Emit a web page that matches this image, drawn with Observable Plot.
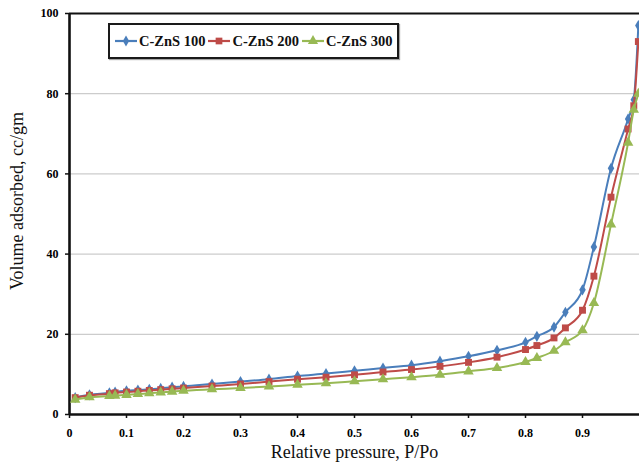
<!DOCTYPE html>
<html>
<head>
<meta charset="utf-8">
<script src="https://cdn.jsdelivr.net/npm/d3@7"></script>
<script src="https://cdn.jsdelivr.net/npm/@observablehq/plot@0.6"></script>
<style>
  body { margin: 0; background: #fff; }
  #wrap { position: relative; width: 639px; height: 470px; overflow: hidden; }
  #legend {
    position: absolute; left: 108px; top: 23px; height: 32px;
    border: 2px solid #1a1a1a; background: #fff;
    display: flex; align-items: center; padding-left: 4px; padding-right: 3px;
    font-family: "Liberation Serif", "Times New Roman", serif; font-weight: bold; font-size: 14.5px; color: #111;
    box-shadow: 1px 1px 1px rgba(0,0,0,0.35);
  }
  #legend .item { display: flex; align-items: center; margin-right: 2px; white-space: nowrap; }
  #legend svg { margin-right: 1px; }
</style>
</head>
<body>
<div id="wrap"><div id="chart"></div><div id="legend"></div></div>
<script>
const pressure = [0.01,0.035,0.07,0.08,0.1,0.12,0.14,0.16,0.18,0.2,0.25,0.3,0.35,0.4,0.45,0.5,0.55,0.6,0.65,0.7,0.75,0.8,0.82,0.85,0.87,0.9,0.92,0.95,0.98,0.99,0.998];
const znS100 = [4.2,4.9,5.4,5.6,5.9,6.1,6.3,6.5,6.8,7.0,7.6,8.2,8.8,9.6,10.2,10.9,11.6,12.3,13.3,14.5,16.0,18.0,19.5,21.8,25.5,31.1,41.8,61.4,73.7,78.5,97];
const znS200 = [4.2,4.8,5.2,5.4,5.6,5.8,6.0,6.2,6.4,6.6,7.1,7.6,8.2,8.8,9.3,9.9,10.6,11.2,12.0,13.0,14.3,16.2,17.2,19.1,21.6,26.0,34.5,54.2,71.2,77.0,93];
const znS300 = [3.7,4.3,4.6,4.7,4.9,5.1,5.3,5.5,5.7,5.9,6.3,6.6,7.0,7.4,7.8,8.3,8.8,9.3,9.9,10.75,11.6,13.1,14.1,15.9,18.0,21.0,27.8,47.4,67.8,76.0,80];
const seriesNames = ["C-ZnS 100", "C-ZnS 200", "C-ZnS 300"];
const seriesColors = ["#4a7ebb", "#be4b48", "#98b954"];
const seriesSymbols = ["diamond", "square", "triangle"];
const seriesValues = [znS100, znS200, znS300];
const xTicks = [0,0.1,0.2,0.3,0.4,0.5,0.6,0.7,0.8,0.9];
const yTicks = [0,20,40,60,80,100];
const gridValues = [20,40,60,80];

const rows = seriesNames.flatMap((name, i) =>
  pressure.map((p, j) => ({series: name, p, v: seriesValues[i][j]})));

const serif = "'Liberation Serif', 'Times New Roman', serif";

const marks = [
  Plot.ruleY(gridValues, {stroke: "#cccccc", strokeWidth: 1.3}),
  Plot.ruleY([100], {stroke: "#111", strokeWidth: 2.2}),
  Plot.axisX({ticks: xTicks, tickFormat: d => d === 0 ? "0" : d3.format(".1f")(d), tickSize: 4, tickPadding: 10,
    fontWeight: "bold", fontSize: 12, fontFamily: serif, label: null, stroke: "#111", strokeWidth: 1.5}),
  Plot.axisY({ticks: yTicks, tickSize: 4, tickPadding: 7, fontWeight: "bold", fontSize: 12, fontFamily: serif,
    label: null, stroke: "#111", strokeWidth: 1.5}),
  Plot.ruleX([0], {stroke: "#111", strokeWidth: 2.6}),
  Plot.ruleY([0], {stroke: "#111", strokeWidth: 2.6}),
];
seriesNames.forEach((name, i) => {
  const d = rows.filter(r => r.series === name);
  marks.push(Plot.line(d, {x: "p", y: "v", stroke: seriesColors[i], strokeWidth: 2, curve: "monotone-x"}));
  marks.push(Plot.dot(d, {x: "p", y: "v", fill: seriesColors[i], stroke: "none", symbol: () => seriesSymbols[i],
    r: i === 0 ? 3.4 : 3.9}));
});
marks.push(Plot.text(["Relative pressure, P/Po"], {frameAnchor: "bottom", dy: 43, fontSize: 18, fontFamily: serif, fill: "#111"}));
marks.push(Plot.text(["Volume adsorbed, cc/gm"], {frameAnchor: "left", textAnchor: "middle", dx: -52, dy: -13, rotate: -90, fontSize: 18, fontFamily: serif, fill: "#111"}));

const chart = Plot.plot({
  width: 639, height: 470,
  marginLeft: 69, marginRight: 0, marginTop: 13, marginBottom: 56,
  x: {domain: [0, 1]},
  y: {domain: [0, 100]},
  symbol: {domain: seriesSymbols, range: seriesSymbols},
  style: {fontFamily: serif, background: "#fff", overflow: "visible"},
  marks
});
document.getElementById("chart").appendChild(chart);

// legend
const legend = d3.select("#legend");
const symTypes = {diamond: d3.symbolDiamond, square: d3.symbolSquare, triangle: d3.symbolTriangle};
seriesNames.forEach((name, i) => {
  const item = legend.append("div").attr("class", "item");
  const s = item.append("svg").attr("width", 24).attr("height", 12);
  s.append("line").attr("x1", 1).attr("x2", 23).attr("y1", 6).attr("y2", 6)
    .attr("stroke", seriesColors[i]).attr("stroke-width", 2.2);
  s.append("path").attr("transform", "translate(12,6)")
    .attr("d", d3.symbol(symTypes[seriesSymbols[i]], i === 0 ? 34 : 45)())
    .attr("fill", seriesColors[i]);
  item.append("span").text(name);
});
</script>
</body>
</html>
